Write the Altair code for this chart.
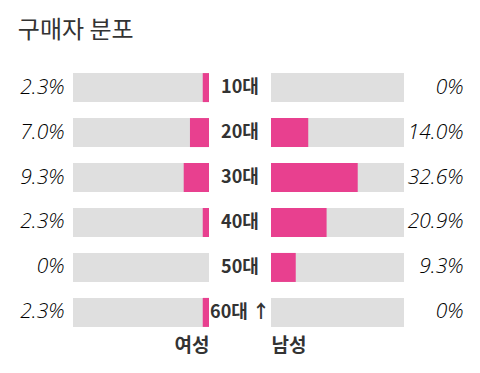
import altair as alt
import pandas as pd

ages = ["10대", "20대", "30대", "40대", "50대", "60대 ↑"]
female = [2.3, 7.0, 9.3, 2.3, 0.0, 2.3]
male = [0.0, 14.0, 32.6, 20.9, 9.3, 0.0]
female_labels = ["2.3%", "7.0%", "9.3%", "2.3%", "0%", "2.3%"]
male_labels = ["0%", "14.0%", "32.6%", "20.9%", "9.3%", "0%"]
full_scale = 50

df = pd.DataFrame({
    "age": ages,
    "female": female,
    "male": male,
    "flab": female_labels,
    "mlab": male_labels,
    "full": [full_scale] * len(ages),
})

PINK = "#E8408F"
GRAY = "#DFDFDF"
KFONT = "Noto Sans CJK KR"
H = 270

yscale = alt.Scale(domain=ages, paddingInner=0.355, paddingOuter=0.18)

fl_expr = "{" + ",".join(f"'{a}':'{l}'" for a, l in zip(ages, female_labels)) + "}[datum.value]"
ml_expr = "{" + ",".join(f"'{a}':'{l}'" for a, l in zip(ages, male_labels)) + "}[datum.value]"

left_base = alt.Chart(df)
left_y_axis = alt.Axis(
    orient="left", title=None, ticks=False, domain=False, labelExpr=fl_expr,
    labelFont="Open Sans", labelFontStyle="italic", labelFontSize=21,
    labelFontWeight=300, labelColor="#000", labelPadding=9, labelAlign="right",
)
left_x_axis = alt.Axis(
    title="여성", titleAnchor="start", titleAlign="right", titleFont=KFONT,
    titleFontSize=19, titleFontWeight="bold", titleColor="#333", labels=False,
    ticks=False, domain=False, grid=False, titlePadding=1,
)
left_bg = left_base.mark_bar(color=GRAY).encode(
    y=alt.Y("age:N", scale=yscale, axis=left_y_axis, sort=ages),
    x=alt.X("full:Q", scale=alt.Scale(domain=[0, full_scale], reverse=True), axis=left_x_axis),
)
left_fg = left_base.mark_bar(color=PINK).encode(
    y=alt.Y("age:N", scale=yscale, sort=ages),
    x=alt.X("female:Q"),
)
left = alt.layer(left_bg, left_fg).properties(width=136, height=H)

mid = alt.Chart(df).mark_text(
    font=KFONT, fontSize=18, fontWeight="bold", color="#333", baseline="middle"
).encode(
    y=alt.Y("age:N", scale=yscale, axis=None, sort=ages),
    text="age:N",
).properties(width=62, height=H)

right_y_axis = alt.Axis(
    orient="right", title=None, ticks=False, domain=False, labelExpr=ml_expr,
    labelFont="Open Sans", labelFontStyle="italic", labelFontSize=21,
    labelFontWeight=300, labelColor="#000", labelPadding=59, labelAlign="right",
)
right_x_axis = alt.Axis(
    title="남성", titleAnchor="start", titleAlign="left", titleFont=KFONT,
    titleFontSize=19, titleFontWeight="bold", titleColor="#333", labels=False,
    ticks=False, domain=False, grid=False, titlePadding=1,
)
right_base = alt.Chart(df)
right_bg = right_base.mark_bar(color=GRAY).encode(
    y=alt.Y("age:N", scale=yscale, axis=right_y_axis, sort=ages),
    x=alt.X("full:Q", scale=alt.Scale(domain=[0, full_scale]), axis=right_x_axis),
)
right_fg = right_base.mark_bar(color=PINK).encode(
    y=alt.Y("age:N", scale=yscale, sort=ages),
    x=alt.X("male:Q"),
)
right = alt.layer(right_bg, right_fg).properties(width=133, height=H)

chart = alt.hconcat(left, mid, right, spacing=0).properties(
    title=alt.TitleParams(
        "구매자 분포", anchor="start", font=KFONT, fontSize=24,
        fontWeight="normal", color="#333", offset=22, dx=-2,
    ),
).configure(
    padding={"left": 9, "top": 11, "right": 5, "bottom": 5},
    view={"stroke": "transparent", "strokeWidth": 0},
)

chart.save("out.html", embed_options={"renderer": "svg", "actions": False})
